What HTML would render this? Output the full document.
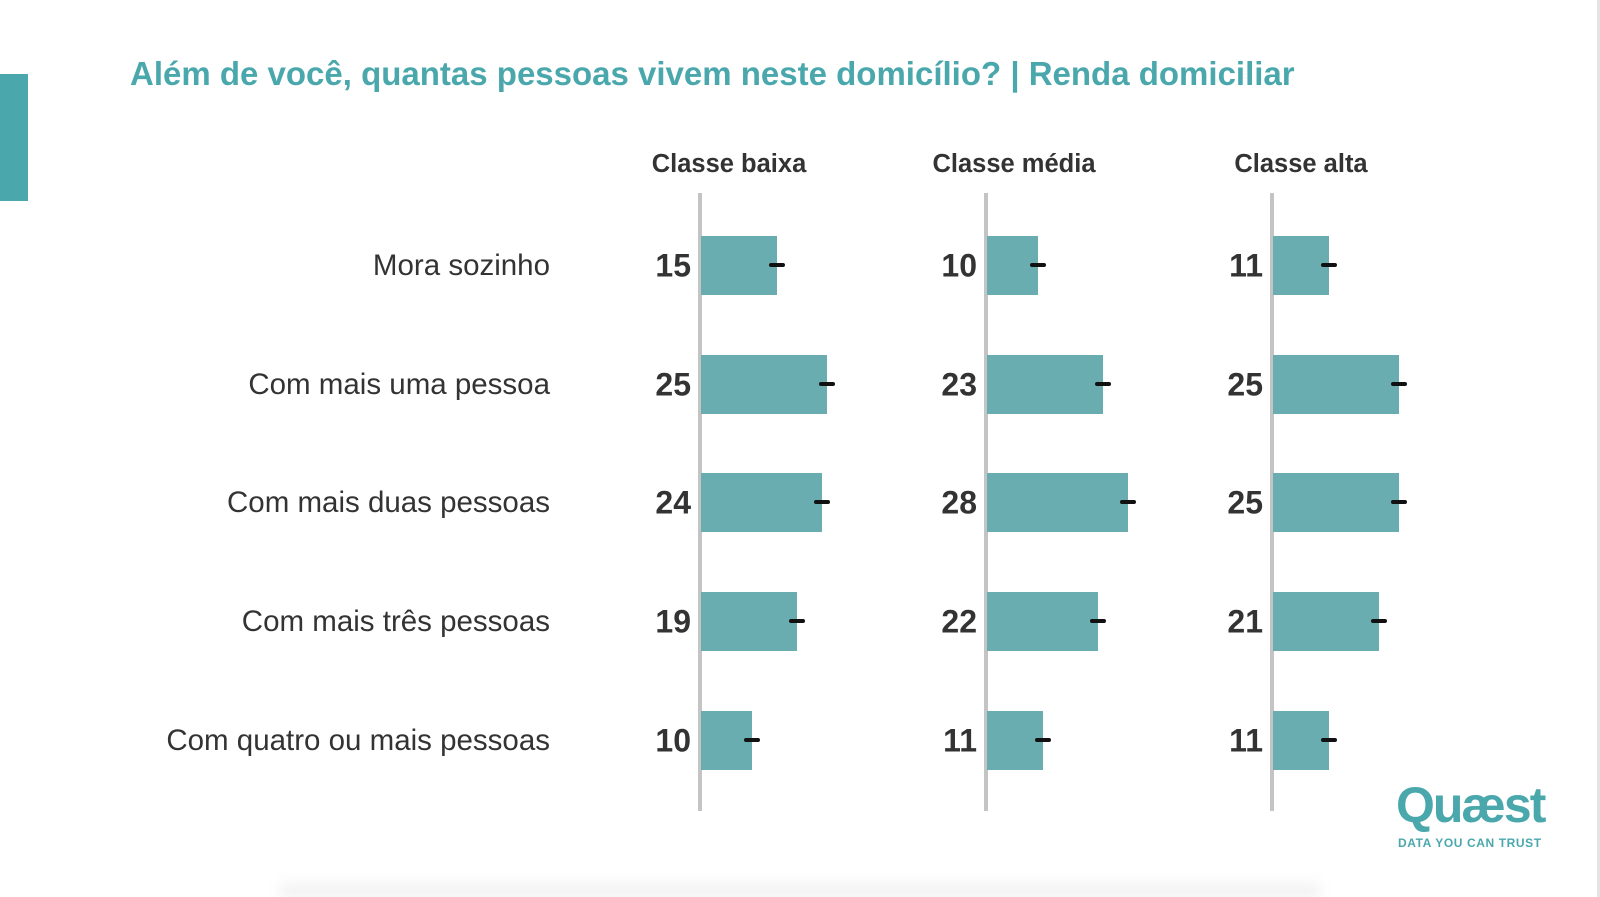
<!DOCTYPE html><html><head><meta charset="utf-8"><style>
body{margin:0;width:1600px;height:897px;background:#fff;position:relative;overflow:hidden;font-family:"Liberation Sans",sans-serif}
.a{position:absolute}
.t{left:130px;top:55px;font-size:33px;font-weight:bold;color:#4aa8ad;white-space:nowrap}
.h{top:150px;width:260px;text-align:center;font-size:25.5px;font-weight:bold;color:#333}
.l{right:1050px;font-size:29.5px;color:#333;white-space:nowrap;transform:translateY(-50%);font-weight:300}
.n{font-size:32px;font-weight:bold;color:#333;transform:translateY(-50%);width:60px;text-align:right}
.ax{top:193px;width:4px;height:618px;background:#c4c4c4}
.b{height:59px;background:#69adb0}
.e{width:16px;height:4px;background:#111;border-radius:2px}
</style></head><body>
<div class="a" style="left:0;top:74px;width:28px;height:127px;background:#4aa8ad"></div>
<div class="a" style="right:0;top:0;width:3px;height:897px;background:#e4e4e4"></div>
<div class="a" style="left:280px;bottom:0;width:1040px;height:20px;background:linear-gradient(#fff,#ececec);filter:blur(6px)"></div>
<div class="a t">Além de você, quantas pessoas vivem neste domicílio? | Renda domiciliar</div>
<div class="a h" style="left:599px">Classe baixa</div>
<div class="a h" style="left:884px">Classe média</div>
<div class="a h" style="left:1171px">Classe alta</div>
<div class="a l" style="top:266px">Mora sozinho</div>
<div class="a l" style="top:385px">Com mais uma pessoa</div>
<div class="a l" style="top:503px">Com mais duas pessoas</div>
<div class="a l" style="top:622px">Com mais três pessoas</div>
<div class="a l" style="top:741px">Com quatro ou mais pessoas</div>
<div id="c"></div>
<div class="a" style="left:1396px;top:780px;font-size:50px;font-weight:bold;color:#4aa8ad;letter-spacing:-2px;line-height:50px">Quæst</div>
<div class="a" style="left:1398px;top:836px;font-size:12px;font-weight:bold;color:#4aa8ad;letter-spacing:0.6px">DATA YOU CAN TRUST</div>
<script>
var ax=[698,984,1270],ys=[265,384,502,621,740],d=[[15,25,24,19,10],[10,23,28,22,11],[11,25,25,21,11]],h='';
for(var c=0;c<3;c++){h+='<div class="a ax" style="left:'+ax[c]+'px"></div>';
for(var r=0;r<5;r++){var v=d[c][r],w=Math.round(v*5.05),x=ax[c]+3;
h+='<div class="a n" style="left:'+(ax[c]-67)+'px;top:'+(ys[r]+1)+'px">'+v+'</div>';
h+='<div class="a b" style="left:'+x+'px;top:'+(ys[r]-29)+'px;width:'+w+'px"></div>';
h+='<div class="a e" style="left:'+(x+w-8)+'px;top:'+(ys[r]-2)+'px"></div>';}}
document.getElementById('c').innerHTML=h;
</script>
</body></html>
